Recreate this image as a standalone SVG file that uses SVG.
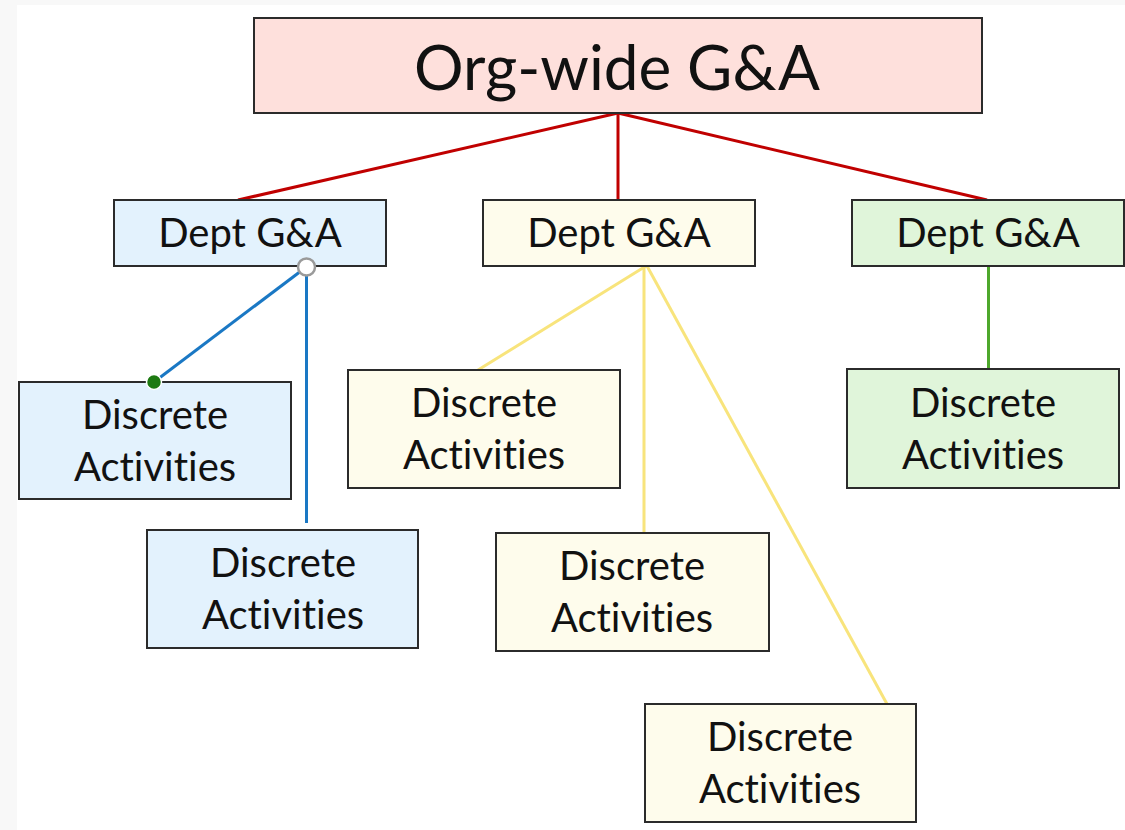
<svg xmlns="http://www.w3.org/2000/svg" width="1125" height="830" viewBox="0 0 1125 830">
<style>
.box{stroke:#2b2b2b;stroke-width:2}
.pink{fill:#fee0dc}
.blue{fill:#e3f2fd}
.cream{fill:#fefcec}
.green{fill:#e0f5da}
text{font-family:Lato,"Open Sans","DejaVu Sans",sans-serif;fill:#111;text-anchor:middle;font-variant-ligatures:none;font-feature-settings:"liga" 0,"clig" 0}
.big{font-size:62px}
.lbl{font-size:40px}
.red{stroke:#c00000;stroke-width:3;fill:none}
.bl{stroke:#1a78c4;stroke-width:3;fill:none}
.yl{stroke:#f8e47c;stroke-width:3;fill:none}
.gr{stroke:#4ea82c;stroke-width:3;fill:none}
</style>
<rect x="0" y="0" width="1125" height="830" fill="#f8f8f8"/>
<rect x="17" y="5" width="1108" height="825" fill="#ffffff"/>
<g id="connectors">
<line class="red" x1="618" y1="113" x2="238" y2="200"/>
<line class="red" x1="618" y1="113" x2="618" y2="200"/>
<line class="red" x1="618" y1="113" x2="987" y2="200"/>
<line class="bl" x1="301" y1="271" x2="158" y2="379"/>
<line class="bl" x1="306.5" y1="274" x2="306.5" y2="523"/>
<line class="yl" x1="646" y1="266" x2="478" y2="370"/>
<line class="yl" x1="644" y1="266" x2="644" y2="533"/>
<line class="yl" x1="647" y1="266" x2="887" y2="704"/>
<line class="gr" x1="988.5" y1="266" x2="988.5" y2="369"/>
</g>
<g id="org">
<rect class="box pink" x="254" y="18" width="728" height="95"/>
<text class="big" x="617" y="90">Org-wide G&amp;A</text>
</g>
<g id="dept-blue">
<rect class="box blue" x="114" y="200" width="272" height="66"/>
<text class="lbl" x="250" y="247">Dept G&amp;A</text>
</g>
<g id="dept-cream">
<rect class="box cream" x="483" y="200" width="272" height="66"/>
<text class="lbl" x="619" y="247">Dept G&amp;A</text>
</g>
<g id="dept-green">
<rect class="box green" x="852" y="200" width="272" height="66"/>
<text class="lbl" x="988" y="247">Dept G&amp;A</text>
</g>
<g id="act-blue-1">
<rect class="box blue" x="19" y="382" width="272" height="117"/>
<text class="lbl" x="155" y="429">Discrete</text>
<text class="lbl" x="155" y="481">Activities</text>
</g>
<g id="act-blue-2">
<rect class="box blue" x="147" y="530" width="271" height="118"/>
<text class="lbl" x="283" y="577">Discrete</text>
<text class="lbl" x="283" y="629">Activities</text>
</g>
<g id="act-cream-1">
<rect class="box cream" x="348" y="370" width="272" height="118"/>
<text class="lbl" x="484" y="417">Discrete</text>
<text class="lbl" x="484" y="469">Activities</text>
</g>
<g id="act-cream-2">
<rect class="box cream" x="496" y="533" width="273" height="118"/>
<text class="lbl" x="632" y="580">Discrete</text>
<text class="lbl" x="632" y="632">Activities</text>
</g>
<g id="act-cream-3">
<rect class="box cream" x="645" y="704" width="271" height="118"/>
<text class="lbl" x="780" y="751">Discrete</text>
<text class="lbl" x="780" y="803">Activities</text>
</g>
<g id="act-green">
<rect class="box green" x="847" y="369" width="272" height="119"/>
<text class="lbl" x="983" y="417">Discrete</text>
<text class="lbl" x="983" y="469">Activities</text>
</g>
<g id="handles">
<circle cx="306.5" cy="267" r="8.5" fill="#ffffff" stroke="#9a9a9a" stroke-width="2.5"/>
<circle cx="154" cy="382" r="7.5" fill="#1d7a12" stroke="#ffffff" stroke-width="1.5"/>
</g>
</svg>
